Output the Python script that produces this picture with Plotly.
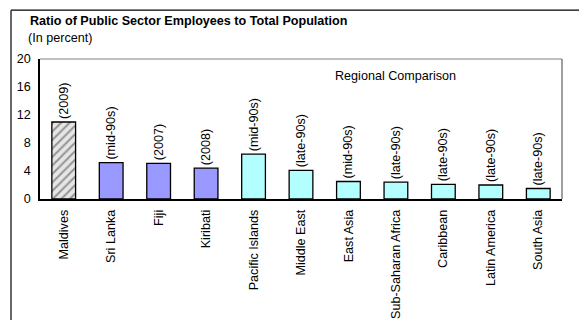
import plotly.graph_objects as go

categories = ["Maldives", "Sri Lanka", "Fiji", "Kiribati", "Pacific Islands",
              "Middle East", "East Asia", "Sub-Saharan Africa", "Caribbean",
              "Latin America", "South Asia"]
values = [11.0, 5.2, 5.1, 4.4, 6.4, 4.1, 2.5, 2.4, 2.1, 2.0, 1.5]
periods = ["(2009)", "(mid-90s)", "(2007)", "(2008)", "(mid-90s)", "(late-90s)",
           "(mid-90s)", "(late-90s)", "(late-90s)", "(late-90s)", "(late-90s)"]
groups = ["home", "peer", "peer", "peer", "region", "region", "region",
          "region", "region", "region", "region"]
y_ticks = [0, 4, 8, 12, 16, 20]

fill = {"home": "#E6E6E6", "peer": "#9999FF", "region": "#B3FFFF"}
pattern_shape = ["/" if g == "home" else "" for g in groups]

FONT = "Liberation Sans, Arial, sans-serif"
FS = 12.6

fig = go.Figure(go.Bar(
    x=categories,
    y=values,
    text=periods,
    textposition="outside",
    textangle=-90,
    constraintext="none",
    cliponaxis=False,
    textfont=dict(family=FONT, size=FS, color="#000000"),
    marker=dict(
        color=[fill[g] for g in groups],
        line=dict(color="#000000", width=1.3),
        pattern=dict(shape=pattern_shape, fgcolor="#ABABAB",
                     bgcolor="#E8E8E8", size=6, solidity=0.35),
    ),
    width=0.5,
))

# plot area spans roughly x 40..562 px and y 59..199.5 px
L, R, T, B = 40, 17, 59, 120.5
W, H = 579, 320
pw, ph = W - L - R, H - T - B

def px_x(v):
    return (v - L) / pw

def px_y(v):
    return (H - B - v) / ph

shapes = [
    # outer chart frame (left and top edges)
    dict(type="line", xref="paper", yref="paper", x0=px_x(11), x1=px_x(11),
         y0=px_y(10), y1=px_y(330), line=dict(color="#000000", width=1.2)),
    dict(type="line", xref="paper", yref="paper", x0=px_x(11), x1=px_x(600),
         y0=px_y(10), y1=px_y(10), line=dict(color="#000000", width=1.2)),
    # plot area border
    dict(type="line", xref="paper", yref="paper", x0=0, x1=1, y0=1, y1=1,
         line=dict(color="#808080", width=1)),
    dict(type="line", xref="paper", yref="paper", x0=1, x1=1, y0=0, y1=1,
         line=dict(color="#404040", width=1)),
]

annotations = [
    dict(text="<b>Ratio of Public Sector Employees to Total Population</b>",
         xref="paper", yref="paper", x=px_x(28), y=px_y(21),
         xanchor="left", yanchor="middle", showarrow=False,
         font=dict(family=FONT, size=FS, color="#000000")),
    dict(text="(In percent)", xref="paper", yref="paper",
         x=px_x(26), y=px_y(37.5), xanchor="left", yanchor="middle",
         showarrow=False, font=dict(family=FONT, size=FS, color="#000000")),
    dict(text="Regional Comparison", xref="paper", yref="paper",
         x=px_x(395), y=px_y(76), xanchor="center", yanchor="middle",
         showarrow=False, font=dict(family=FONT, size=FS, color="#000000")),
]

fig.update_layout(
    width=W, height=H,
    margin=dict(l=L, r=R, t=T, b=B, pad=0, autoexpand=False),
    paper_bgcolor="#FFFFFF",
    plot_bgcolor="#FFFFFF",
    showlegend=False,
    bargap=0.5,
    shapes=shapes,
    annotations=annotations,
    font=dict(family=FONT, size=FS, color="#000000"),
)

fig.update_xaxes(
    automargin=False,
    tickangle=-90,
    showgrid=False,
    showline=True, linecolor="#000000", linewidth=1.5,
    ticks="", ticklabelstandoff=4,
    tickfont=dict(family=FONT, size=FS, color="#000000"),
    range=[-0.5, len(categories) - 0.5],
)

fig.update_yaxes(
    automargin=False,
    range=[0, 20],
    tickvals=y_ticks,
    showgrid=False,
    showline=True, linecolor="#000000", linewidth=1.5,
    ticks="", ticklabelstandoff=5,
    zeroline=False,
    tickfont=dict(family=FONT, size=FS, color="#000000"),
)

fig.write_html("out.html")
